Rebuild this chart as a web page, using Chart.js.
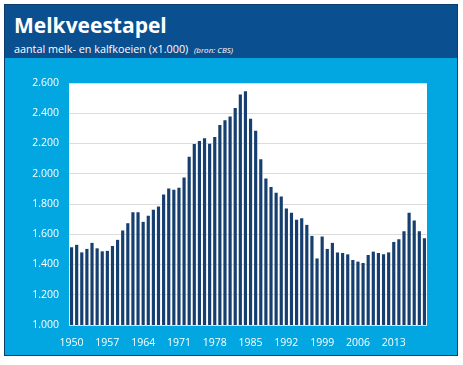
<!DOCTYPE html>
<html>
<head>
<meta charset="utf-8">
<script src="https://cdn.jsdelivr.net/npm/chart.js@4.4.0/dist/chart.umd.min.js"></script>
<style>
  body { margin: 0; background: #fff; font-family: "Open Sans", sans-serif; }
  #frame { position: absolute; left: 4px; top: 4px; width: 452px; height: 350px;
    border: 1px solid #0a3d6e; background: #02a6e0; }
  #head { height: 53px; background: #0a4f8f; color: #fff; }
  #head h1 { margin: 0; padding: 8px 0 0 9px; font-size: 21px; font-weight: 700; line-height: 24px; }
  #head p { margin: 0; padding: 5px 0 0 9px; font-size: 10.8px; line-height: 14px; }
  #head p i { font-size: 8px; margin-left: 3px; }
  #box { position: absolute; left: 0; top: 53px; width: 452px; height: 297px; }
</style>
</head>
<body>
<div id="frame">
  <div id="head">
    <h1>Melkveestapel</h1>
    <p>aantal melk- en kalfkoeien (x1.000) <i>(bron: CBS)</i></p>
  </div>
  <div id="box"><canvas id="melk"></canvas></div>
</div>
<script>
const years = []
for (let y = 1950; y <= 2019; y++) years.push(y)

const cows = [
  1514, 1530, 1480, 1503, 1543, 1507, 1487, 1490, 1523, 1563,
  1625, 1673, 1746, 1746, 1682, 1722, 1762, 1784, 1862, 1902,
  1895, 1908, 1975, 2112, 2196, 2216, 2234, 2198, 2243, 2322,
  2353, 2378, 2435, 2524, 2546, 2364, 2284, 2096, 1968, 1912,
  1875, 1849, 1771, 1742, 1696, 1706, 1662, 1589, 1440, 1585,
  1503, 1543, 1480, 1476, 1467, 1430, 1419, 1410, 1463, 1485,
  1476, 1467, 1480, 1549, 1567, 1620, 1742, 1691, 1620, 1574
]

const yTicks = [1000, 1200, 1400, 1600, 1800, 2000, 2200, 2400, 2600]

const whiteArea = {
  id: 'whiteArea',
  beforeDraw(chart) {
    const a = chart.chartArea
    chart.ctx.save()
    chart.ctx.fillStyle = '#ffffff'
    chart.ctx.fillRect(a.left, a.top, a.right - a.left, a.bottom - a.top)
    chart.ctx.restore()
  }
}

new Chart("melk", {
  type: "bar",
  data: {
    labels: years,
    datasets: [{
      data: cows,
      backgroundColor: '#163f6f',
      barPercentage: 0.62,
      categoryPercentage: 1
    }]
  },
  plugins: [whiteArea],
  options: {
    responsive: true,
    maintainAspectRatio: false,
    animation: false,
    layout: { padding: { top: 25, right: 30, bottom: 0, left: 0 } },
    plugins: { legend: { display: false }, tooltip: { enabled: false } },
    scales: {
      x: {
        grid: { display: false },
        border: { display: false },
        ticks: {
          color: '#ffffff',
          font: { family: 'Open Sans', size: 10.5 },
          autoSkip: false,
          maxRotation: 0,
          padding: 4,
          callback: function (v, i) {
            return (years[i] - 1950) % 7 == 0 ? years[i] : ''
          }
        },
        afterFit: s => { s.height = 30 }
      },
      y: {
        min: 1000,
        max: 2600,
        afterBuildTicks: s => { s.ticks = yTicks.map(v => ({ value: v })) },
        grid: { color: '#dcdcdc', drawTicks: false },
        border: { display: false },
        ticks: {
          color: '#ffffff',
          font: { family: 'Open Sans', size: 10.5 },
          padding: 10,
          callback: v => String(v).replace(/^(\d)(\d{3})$/, '$1.$2')
        },
        afterFit: s => { s.width = 64 }
      }
    }
  }
})
</script>
</body>
</html>
